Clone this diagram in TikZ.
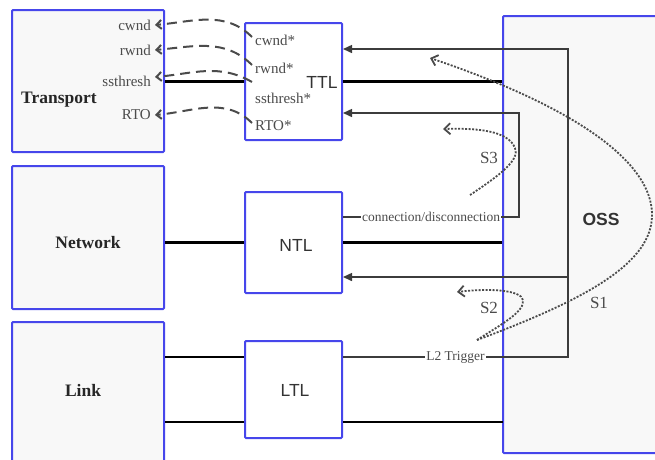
\documentclass[tikz,border=0pt]{standalone}
\usepackage{fontspec}
\setmainfont{Liberation Serif}
\setsansfont{Liberation Sans}
\usepackage{tikz}
\usetikzlibrary{arrows.meta}

\definecolor{layerblue}{RGB}{70,70,235}
\definecolor{layerfill}{RGB}{248,248,248}
\definecolor{wiregray}{RGB}{60,60,60}
\definecolor{paramgray}{RGB}{75,75,75}

\begin{document}
\begin{tikzpicture}[x=1pt, y=-1pt,
  layerbox/.style={draw=layerblue, line width=2pt, rounded corners=1pt, fill=layerfill, inner sep=0pt},
  adaptbox/.style={draw=layerblue, line width=2pt, rounded corners=1pt, fill=white, inner sep=0pt},
  layertext/.style={font=\fontsize{17.5}{20}\selectfont\bfseries, text=black!85},
  adapttext/.style={font=\fontsize{17.5}{20}\selectfont\sffamily, text=black!80},
  paramtext/.style={font=\fontsize{15}{18}\selectfont, text=paramgray, inner sep=1pt},
  steptext/.style={font=\fontsize{17}{20}\selectfont, text=paramgray},
  linelabel/.style={font=\fontsize{13.5}{16}\selectfont, text=paramgray, fill=white, inner sep=1pt},
  busline/.style={black, line width=3pt},
  linkline/.style={black, line width=2pt},
  feedline/.style={wiregray, line width=1.5pt},
  paramlink/.style={paramgray, line width=2pt, dash pattern=on 10pt off 6pt, -{Straight Barb[length=5pt, width=9pt]}},
  signal/.style={paramgray, line width=1.8pt, dash pattern=on 2pt off 1.5pt, -{Straight Barb[length=6pt, width=11pt]}}]
\useasboundingbox (0,0) rectangle (655,459);

% layers
\node[layerbox, minimum width=152pt, minimum height=142pt] (transport) at (88,81) {};
\node[layerbox, minimum width=152pt, minimum height=143pt] (network) at (88,237.5) {};
\node[layerbox, minimum width=152pt, minimum height=140pt] (link) at (88,392) {};
\node[layerbox, minimum width=167pt, minimum height=437pt] (oss) at (586.5,234.5) {};

\node[adaptbox, minimum width=97pt, minimum height=117pt] (ttl) at (293.5,81.5) {};
\node[adaptbox, minimum width=97pt, minimum height=101pt] (ntl) at (293.5,242.5) {};
\node[adaptbox, minimum width=97pt, minimum height=97pt] (ltl) at (293.5,389.5) {};

\node[layertext] (transportlbl) at (59,100) {Transport};
\node[layertext] (networklbl) at (88,243) {Network};
\node[layertext] (linklbl) at (83,390) {Link};
\node[adapttext] (ttllbl) at (322,82) {TTL};
\node[adapttext] (ntllbl) at (296,245) {NTL};
\node[adapttext] (ltllbl) at (295,390) {LTL};
\node[adapttext, font=\fontsize{17.5}{20}\selectfont\sffamily\bfseries] (osslbl) at (601,219) {OSS};

% parameters
\node[paramtext, anchor=east] (cwnd) at (152,25) {cwnd};
\node[paramtext, anchor=east] (rwnd) at (152,50) {rwnd};
\node[paramtext, anchor=east] (ssthresh) at (152,81) {ssthresh};
\node[paramtext, anchor=east] (rto) at (152,115) {RTO};

\node[paramtext, anchor=west] (cwndT) at (254,40) {cwnd*};
\node[paramtext, anchor=west] (rwndT) at (254,68) {rwnd*};
\node[paramtext, anchor=west] (ssthreshT) at (254,98) {ssthresh*};
\node[paramtext, anchor=west] (rtoT) at (254,126) {RTO*};

% buses
\draw[busline] (ttl.west -| transport.east) -- (ttl.west);
\draw[busline] (ttl.east) -- (ttl.east -| oss.west);
\draw[busline] (ntl.west -| network.east) -- (ntl.west);
\draw[busline] (ntl.east) -- (ntl.east -| oss.west);

\coordinate (trigturn) at (568,357);
\coordinate (trigtop) at (568,49);
\coordinate (ntlbranch) at (568,277);
\coordinate (conturn) at (519,217);
\coordinate (contop) at (519,113);
\coordinate (lowbus) at (503,422);

\draw[linkline] (trigturn -| link.east) -- (trigturn -| ltl.west);
\draw[linkline] (lowbus -| link.east) -- (lowbus -| ltl.west);
\draw[linkline] (lowbus -| ltl.east) -- (lowbus);

% feedback to the adapters
\draw[feedline, -{Triangle[length=9pt, width=8pt]}] (trigturn -| ltl.east) -- node[linelabel] {L2 Trigger} (trigturn) -- (trigtop) -- (trigtop -| ttl.east);
\draw[feedline, -{Triangle[length=9pt, width=8pt]}] (ntlbranch) -- (ntlbranch -| ntl.east);
\draw[feedline, -{Triangle[length=9pt, width=8pt]}] (conturn -| ntl.east) -- node[linelabel] {connection/disconnection} (conturn) -- (contop) -- (contop -| ttl.east);

% parameter mapping
\draw[paramlink] ([xshift=-2pt, yshift=3pt]cwndT.west) to[out=135, in=5] ([xshift=3pt]cwnd.east);
\draw[paramlink] ([xshift=-2pt, yshift=3pt]rwndT.west) to[out=135, in=5] ([xshift=3pt]rwnd.east);
\draw[paramlink] ([xshift=-2pt, yshift=16pt]ssthreshT.west) to[out=150, in=5] ([xshift=3pt, yshift=4pt]ssthresh.east);
\draw[paramlink] ([xshift=-2pt, yshift=3pt]rtoT.west) to[out=135, in=5] ([xshift=3pt]rto.east);

% scenarios
\coordinate (s1start) at (477,340);
\coordinate (s1end) at (430,58);
\coordinate (s3start) at (470,195);
\coordinate (s3end) at (443,129);
\coordinate (s2end) at (457,292);

\draw[signal] (s1start) .. controls (590,298) and (652,262) .. (652,215) .. controls (652,150) and (540,95) .. (s1end);
\draw[signal] (s3start) .. controls (500,175) and (520,160) .. (515,148) .. controls (508,130) and (475,128) .. (s3end);
\draw[signal] (s1start) .. controls (500,325) and (525,312) .. (523,300) .. controls (521,290) and (490,288) .. (s2end);

\node[steptext] (s1lbl) at (599,303) {S1};
\node[steptext] (s2lbl) at (489,308) {S2};
\node[steptext] (s3lbl) at (489,158) {S3};
\end{tikzpicture}
\end{document}
